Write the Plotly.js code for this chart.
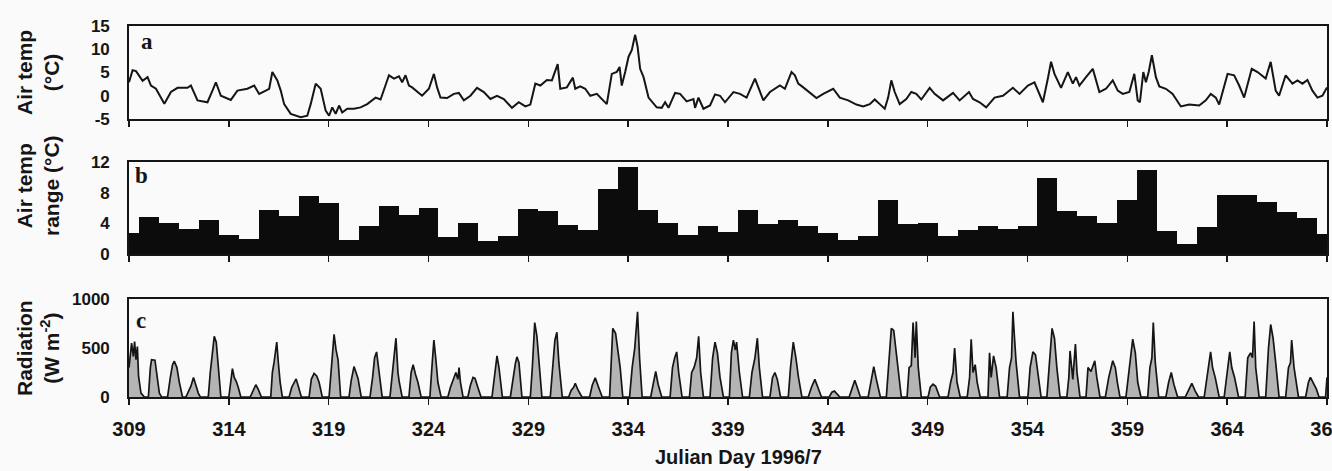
<!DOCTYPE html>
<html>
<head>
<meta charset="utf-8">
<script src="https://cdn.plot.ly/plotly-3.0.1.min.js"></script>
<style>
html,body{margin:0;padding:0;background:#fafafa;}
#chart{width:1332px;height:471px;}
</style>
</head>
<body>
<div id="chart"></div>
<script>
// ---- Panel a: air temperature (°C) ----
const tempDay = [309.0,309.18,309.35,309.68,309.93,310.1,310.35,310.77,311.1,311.43,311.93,312.1,312.43,312.93,313.18,313.35,313.6,313.85,314.1,314.43,314.93,315.27,315.52,315.85,316.02,316.18,316.35,316.43,316.6,316.77,317.1,317.6,317.93,318.1,318.35,318.6,318.85,319.02,319.18,319.35,319.52,319.68,319.93,320.27,320.6,320.93,321.35,321.6,322.02,322.27,322.52,322.68,322.85,323.02,323.18,323.43,323.68,324.02,324.27,324.43,324.6,324.93,325.27,325.52,325.77,326.1,326.43,326.77,327.1,327.43,327.77,328.18,328.52,328.85,329.1,329.35,329.6,329.93,330.18,330.47,330.6,330.93,331.23,331.35,331.6,331.85,332.1,332.43,332.77,332.93,333.18,333.43,333.57,333.68,333.85,334.02,334.18,334.35,334.47,334.6,334.77,335.02,335.43,335.68,335.85,336.02,336.35,336.6,336.93,337.27,337.35,337.52,337.77,338.1,338.35,338.6,338.85,339.27,339.6,339.93,340.35,340.6,340.77,341.1,341.6,341.85,342.18,342.35,342.52,342.77,343.1,343.43,343.77,344.27,344.6,345.02,345.43,345.77,346.1,346.35,346.6,346.85,347.02,347.18,347.35,347.6,347.93,348.18,348.43,348.68,349.1,349.35,349.77,350.27,350.6,351.07,351.27,351.6,351.93,352.35,352.77,353.27,353.6,354.02,354.35,354.77,355.02,355.18,355.35,355.68,356.02,356.27,356.43,356.6,356.93,357.27,357.6,357.93,358.27,358.52,358.77,359.1,359.35,359.52,359.63,359.8,359.93,360.07,360.23,360.43,360.6,360.93,361.27,361.68,362.1,362.6,362.93,363.18,363.43,363.6,364.02,364.35,364.6,364.85,365.23,365.52,365.93,366.18,366.43,366.6,366.93,367.27,367.52,367.77,368.02,368.27,368.52,368.77,369.0];
const tempC = [2.9,5.5,5.3,3.2,4.0,2.2,1.5,-1.7,0.8,1.7,1.7,2.2,-1.0,-1.4,1.1,2.9,0,-0.4,-0.9,1.1,1.5,2.2,0.4,1.1,1.5,5.1,3.7,3.3,1.1,-1.8,-3.9,-4.6,-4.3,-1.8,2.6,1.5,-3.2,-4.3,-2.5,-3.9,-2.1,-3.6,-2.8,-2.8,-2.5,-1.8,-0.4,-0.8,4.4,3.7,4.2,2.9,4.4,2.2,1.8,0.8,0,1.5,4.7,1.8,-0.4,-0.5,0.4,0.6,-1.0,0,1.7,0.8,-0.7,0,-0.7,-2.6,-1.4,-2.3,-1.9,2.6,2.2,3.4,3.3,6.8,1.5,1.8,3.9,1.5,2.0,1.5,0,0.4,-1.0,-1.8,4.7,5.1,6.2,2.2,5.1,8.4,9.8,13.1,10.6,5.8,4.0,-0.4,-2.5,-2.6,-1.4,-2.6,0.6,0.4,-1.2,-0.7,-2.6,-0.4,-2.8,-2.1,0.3,0,-1.4,0.8,0.4,-0.4,3.7,1.1,-1.0,0.8,2.2,1.5,5.1,4.4,2.6,1.8,0.6,-0.5,0.4,1.5,-0.4,-1.0,-1.9,-2.3,-1.8,-0.8,-1.8,-2.8,-0.4,3.3,0.8,-1.8,-0.7,0.8,0.4,-0.8,1.7,0.4,-1.0,0.6,-1.0,0.8,-0.7,-1.4,-2.5,-0.4,0,1.7,0.4,2.2,2.9,-1.4,3.7,7.3,4.7,1.7,5.1,2.6,4.0,2.2,4.0,5.8,0.8,1.5,3.3,1.1,0.4,0.8,4.7,-1.0,-1.4,5.1,2.9,5.1,8.7,4.0,2.0,1.5,0.4,-2.3,-1.9,-2.1,-1.0,0.4,-0.4,-1.9,4.7,4.4,2.2,-0.4,5.8,5.1,3.7,7.3,1.1,0,4.4,2.6,3.3,2.6,3.4,1.1,-0.4,0,1.8];

// ---- Panel b: daily air temperature range (°C) ----
const rangeDay = [309,310,311,312,313,314,315,316,317,318,319,320,321,322,323,324,325,326,327,328,329,330,331,332,333,334,335,336,337,338,339,340,341,342,343,344,345,346,347,348,349,350,351,352,353,354,355,356,357,358,359,360,361,362,363,364,365,366,367,368,369];
const rangeC = [2.8,4.8,4.1,3.3,4.5,2.5,2.0,5.7,5.0,7.6,6.6,1.8,3.6,6.2,5.1,6.0,2.2,4.0,1.7,2.3,5.9,5.6,3.8,3.1,8.5,11.4,5.7,4.0,2.5,3.7,2.9,5.8,3.9,4.4,3.7,2.7,1.8,2.3,7.1,3.9,4.1,2.3,3.1,3.6,3.3,3.6,9.9,5.6,4.9,4.0,7.0,10.9,3.0,1.3,3.5,7.7,7.7,6.8,5.5,4.7,2.6];

// ---- Panel c: radiation (W m-2) ----
const radDay = [309.0,309.13,309.22,309.28,309.35,309.42,309.48,309.6,309.77,
 309.97,310.07,310.13,310.3,310.4,310.52,310.63,
 310.93,311.07,311.18,311.27,311.4,311.52,311.68,
 311.85,312.02,312.1,312.23,312.35,312.47,312.57,
 312.97,313.07,313.15,313.27,313.37,313.47,313.6,
 314.0,314.1,314.18,314.27,314.37,314.47,314.6,
 315.07,315.23,315.35,315.47,315.63,
 316.1,316.18,316.27,316.4,316.48,316.57,316.68,
 317.02,317.15,317.27,317.37,317.48,317.63,
 318.02,318.13,318.27,318.4,318.52,318.68,
 319.02,319.13,319.27,319.37,319.47,319.6,
 320.02,320.13,320.27,320.37,320.47,320.63,
 321.07,321.2,321.3,321.4,321.52,321.68,
 322.07,322.2,322.3,322.37,322.47,322.53,322.68,
 323.02,323.13,323.23,323.35,323.47,323.63,
 324.07,324.17,324.27,324.37,324.47,324.63,
 324.97,325.1,325.27,325.37,325.47,325.53,325.6,325.73,
 325.97,326.1,326.23,326.33,326.47,326.63,
 327.18,327.32,327.43,327.53,327.7,
 328.1,328.23,328.35,328.43,328.53,328.68,
 329.1,329.2,329.32,329.43,329.53,329.68,
 330.1,330.23,330.33,330.43,330.53,330.7,
 331.02,331.15,331.27,331.35,331.47,331.68,
 332.07,332.2,332.35,332.5,332.7,
 333.07,333.17,333.23,333.37,333.47,333.6,333.73,
 334.07,334.2,334.33,334.47,334.57,334.7,
 335.13,335.27,335.38,335.5,335.68,
 336.1,336.22,336.33,336.43,336.53,336.7,
 337.07,337.18,337.3,337.43,337.53,337.63,337.77,
 338.1,338.23,338.35,338.47,338.6,338.77,
 339.07,339.17,339.27,339.37,339.43,339.57,339.73,
 340.07,340.2,340.35,340.47,340.57,340.73,
 341.1,341.23,341.35,341.47,341.63,
 342.02,342.13,342.27,342.4,342.53,342.7,
 343.02,343.18,343.35,343.5,343.68,
 344.07,344.2,344.33,344.47,344.6,
 345.07,345.23,345.35,345.47,345.63,
 346.02,346.17,346.3,346.43,346.63,
 346.93,347.07,347.18,347.3,347.4,347.52,347.68,
 347.97,348.07,348.18,348.27,348.37,348.43,348.53,348.68,
 349.02,349.13,349.27,349.4,349.6,
 350.02,350.15,350.27,350.35,350.47,350.63,
 350.98,351.1,351.18,351.27,351.38,351.48,351.63,
 352.02,352.1,352.18,352.3,352.43,352.6,
 352.98,353.1,353.2,353.27,353.35,353.43,353.6,
 354.02,354.13,354.27,354.4,354.52,354.68,
 354.97,355.1,355.23,355.35,355.47,355.63,
 355.97,356.07,356.13,356.27,356.4,356.48,356.63,
 356.93,357.03,357.18,357.37,357.47,357.63,
 357.9,358.07,358.27,358.4,358.5,358.63,
 358.93,359.1,359.27,359.4,359.52,359.68,
 360.02,360.13,360.23,360.3,360.4,360.57,
 360.93,361.07,361.2,361.33,361.52,
 361.9,362.07,362.23,362.4,362.57,
 362.85,363.02,363.17,363.27,363.4,363.6,
 363.85,364.0,364.13,364.23,364.37,364.57,
 364.9,365.03,365.17,365.27,365.35,365.43,365.6,
 365.93,366.07,366.18,366.3,366.43,366.6,
 366.93,367.07,367.17,367.23,367.35,367.57,
 367.93,368.07,368.17,368.27,368.47,368.6,
 368.93,369.0];
const radW = [300,549,413,566,380,515,210,40,0,
 0,300,380,375,200,40,0,
 0,200,330,365,300,150,0,
 0,70,110,200,120,40,0,
 0,250,380,620,560,300,0,
 0,150,290,200,160,100,0,
 0,80,125,80,0,
 0,250,360,560,350,150,0,
 0,100,150,185,110,0,
 0,180,240,215,150,0,
 0,330,640,480,380,0,
 0,170,310,250,190,0,
 0,200,400,460,250,0,
 0,250,420,600,250,160,0,
 0,250,330,230,150,0,
 0,300,580,380,150,0,
 0,100,200,250,180,300,150,0,
 0,120,200,190,100,0,
 0,250,420,300,0,
 0,200,340,410,350,0,
 0,300,760,620,400,0,
 0,300,580,660,350,0,
 0,70,100,140,80,0,
 0,120,195,110,0,
 0,400,700,650,500,300,0,
 0,300,500,870,400,0,
 0,150,260,130,0,
 0,300,400,460,250,0,
 0,250,300,400,620,250,0,
 0,400,560,450,200,0,
 0,450,580,480,560,250,0,
 0,250,400,600,300,0,
 0,200,250,180,0,
 0,300,560,400,200,0,
 0,100,180,100,0,
 0,50,60,30,0,
 0,100,170,100,0,
 0,150,310,180,0,
 0,400,700,680,500,250,0,
 0,300,320,760,400,770,300,0,
 0,100,130,110,0,
 0,150,250,500,150,0,
 0,200,590,250,330,150,0,
 0,450,200,420,300,0,
 0,300,400,870,600,350,0,
 0,300,460,430,250,0,
 0,400,700,600,300,0,
 0,200,470,180,540,250,0,
 0,300,260,370,200,0,
 0,200,370,300,150,0,
 0,300,590,450,150,0,
 0,300,400,760,350,0,
 0,150,250,130,0,
 0,80,140,60,0,
 0,250,460,300,200,0,
 0,250,460,300,200,0,
 0,400,450,400,770,300,0,
 0,500,740,600,350,0,
 0,300,350,580,300,0,
 0,150,200,160,80,0,
 0,200];

const xTicks = [309,314,319,324,329,334,339,344,349,354,359,364,369];
const yTicksA = [-5,0,5,10,15];
const yTickTextA = ['-5','0','5','10','15'];
const yTicksB = [0,4,8,12];
const yTicksC = [0,500,1000];

const FONT = 'Liberation Sans, Arial, sans-serif';
const INK = '#151515';

const traces = [
  {x: tempDay, y: tempC, type: 'scatter', mode: 'lines', xaxis: 'x', yaxis: 'y',
   line: {color: INK, width: 2}, hoverinfo: 'skip'},
  {x: rangeDay, y: rangeC, type: 'bar', xaxis: 'x2', yaxis: 'y2', width: 1,
   marker: {color: '#0c0c0c', line: {width: 0}}, hoverinfo: 'skip'},
  {x: radDay, y: radW, type: 'scatter', mode: 'lines', xaxis: 'x3', yaxis: 'y3',
   fill: 'tozeroy', fillcolor: '#b4b4b4', line: {color: INK, width: 1.7}, hoverinfo: 'skip'}
];

function xax(anchor, labels) {
  return {
    anchor: anchor, domain: [0, 1], range: [309, 369], showgrid: false, zeroline: false,
    showline: true, mirror: true, linecolor: INK, linewidth: 1.8,
    ticks: 'outside', ticklen: 6, tickwidth: 1.5, tickcolor: INK,
    tickvals: xTicks, showticklabels: labels, ticklabelstandoff: 7,
    ticklabeloverflow: 'allow',
    tickfont: {family: FONT, size: 20, color: INK, weight: 'bold'}
  };
}
function yax(anchor, dom, rng, vals, text) {
  const o = {
    anchor: anchor, domain: dom, range: rng, showgrid: false, zeroline: false,
    showline: true, mirror: true, linecolor: INK, linewidth: 1.8,
    ticks: '', tickvals: vals, ticklabelstandoff: 14,
    tickfont: {family: FONT, size: 17, color: INK, weight: 'bold'}
  };
  if (text) o.ticktext = text;
  return o;
}

const H = 471, L = 129, W = 1198;
function px(x) { return (x - L) / W; }
function py(y) { return 1 - y / H; }

const TFONT = {family: FONT, size: 21, color: INK, weight: 'bold'};
const LFONT = {family: 'Liberation Serif, Times New Roman, serif', size: 23, color: INK, weight: 'bold'};

const layout = {
  width: 1332, height: 471,
  margin: {l: L, r: 5, t: 0, b: 0},
  paper_bgcolor: '#fafafa', plot_bgcolor: '#fafafa',
  showlegend: false, bargap: 0,
  xaxis: xax('y', false),
  xaxis2: xax('y2', false),
  xaxis3: xax('y3', true),
  yaxis: yax('x', [py(119), py(26)], [-5, 15], yTicksA, yTickTextA),
  yaxis2: yax('x2', [py(254), py(162)], [0, 12], yTicksB),
  yaxis3: yax('x3', [py(397), py(299)], [0, 1000], yTicksC),
  annotations: [
    {text: 'Air temp<br>(°C)', xref: 'paper', yref: 'paper', x: px(38), y: py(73),
     textangle: -90, showarrow: false, xanchor: 'center', yanchor: 'middle', font: TFONT},
    {text: 'Air temp<br>range (°C)', xref: 'paper', yref: 'paper', x: px(38), y: py(186),
     textangle: -90, showarrow: false, xanchor: 'center', yanchor: 'middle', font: TFONT},
    {text: 'Radiation<br>(W m<sup>-2</sup>)', xref: 'paper', yref: 'paper', x: px(38), y: py(348),
     textangle: -90, showarrow: false, xanchor: 'center', yanchor: 'middle', font: TFONT},
    {text: 'a', xref: 'paper', yref: 'paper', x: px(139), y: py(42),
     showarrow: false, xanchor: 'left', yanchor: 'middle', font: LFONT},
    {text: 'b', xref: 'paper', yref: 'paper', x: px(133), y: py(176),
     showarrow: false, xanchor: 'left', yanchor: 'middle', font: LFONT},
    {text: 'c', xref: 'paper', yref: 'paper', x: px(134), y: py(320),
     showarrow: false, xanchor: 'left', yanchor: 'middle', font: LFONT},
    {text: 'Julian Day 1996/7', xref: 'paper', yref: 'paper', x: px(738), y: py(457),
     showarrow: false, xanchor: 'center', yanchor: 'middle',
     font: {family: FONT, size: 20, color: INK, weight: 'bold'}}
  ]
};

Plotly.newPlot('chart', traces, layout, {displayModeBar: false, staticPlot: true});
</script>
</body>
</html>
